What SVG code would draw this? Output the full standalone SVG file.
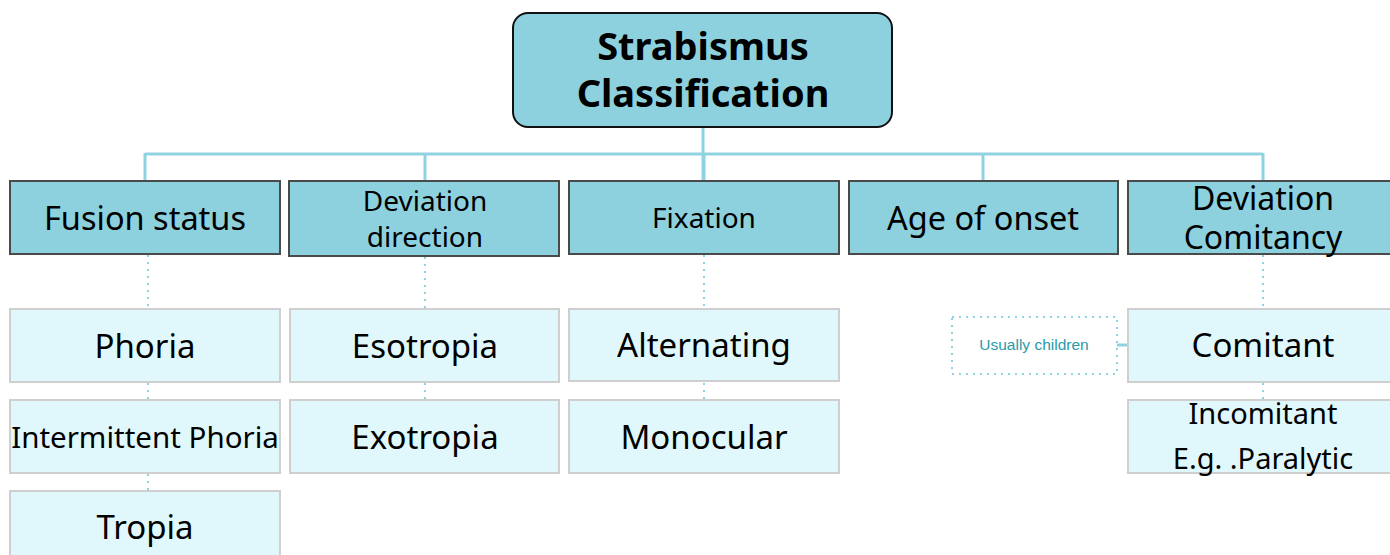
<svg xmlns="http://www.w3.org/2000/svg" width="1390" height="555" viewBox="0 0 1390 555">
<style>
.hdr{fill:#8dd1de;stroke:#4a4a4a;stroke-width:2}
.ch{fill:#e0f8fc;stroke:#cfcfcf;stroke-width:2}
.t{font-family:"Noto Sans","Open Sans",sans-serif;fill:#000;text-anchor:middle}
.solid{stroke:#8fd3e0;stroke-width:3;fill:none}
.dot{stroke:#8fd3e0;stroke-width:2;fill:none;stroke-dasharray:2 5}
</style>
<rect width="1390" height="555" fill="#fff"/>
<g id="connectors">
<path class="solid" d="M703 127V181M145 154H1263M145 153V181M425 153V181M704 153V181M983 153V181M1263 153V181"/>
<path class="dot" d="M148 255V309M148 383V400M148 474V491M425 257V309M425 383V400M704 255V309M704 383V400M1263 255V309M1263 383V400"/>
<path class="solid" stroke-width="2" d="M1117 345H1128"/>
</g>
<g id="root">
<rect x="513" y="13" width="379" height="114" rx="15" fill="#8dd1de" stroke="#111" stroke-width="2"/>
<text class="t" x="703" y="60" font-size="38" font-weight="bold">Strabismus</text>
<text class="t" x="703" y="107" font-size="38" font-weight="bold">Classification</text>
</g>
<g id="fusion">
<rect class="hdr" x="10" y="181" width="270" height="73"/>
<text class="t" x="145" y="230" font-size="32.5">Fusion status</text>
</g>
<g id="direction">
<rect class="hdr" x="289" y="181" width="270" height="75"/>
<text class="t" x="425" y="211" font-size="28">Deviation</text>
<text class="t" x="425" y="247" font-size="28">direction</text>
</g>
<g id="fixation">
<rect class="hdr" x="569" y="181" width="270" height="73"/>
<text class="t" x="704" y="228" font-size="28">Fixation</text>
</g>
<g id="age">
<rect class="hdr" x="849" y="181" width="269" height="73"/>
<text class="t" x="983" y="230" font-size="32.5">Age of onset</text>
</g>
<g id="comitancy">
<rect class="hdr" x="1128" y="181" width="272" height="73"/>
<text class="t" x="1263" y="210" font-size="32">Deviation</text>
<text class="t" x="1263" y="249" font-size="32">Comitancy</text>
</g>
<g id="phoria">
<rect class="ch" x="10" y="309" width="270" height="73"/>
<text class="t" x="145" y="358" font-size="33">Phoria</text>
</g>
<g id="intermittent">
<rect class="ch" x="10" y="400" width="270" height="73"/>
<text class="t" x="145" y="448" font-size="29.5">Intermittent Phoria</text>
</g>
<g id="tropia">
<rect class="ch" x="10" y="491" width="270" height="80"/>
<text class="t" x="145" y="539" font-size="33">Tropia</text>
</g>
<g id="esotropia">
<rect class="ch" x="290" y="309" width="269" height="73"/>
<text class="t" x="425" y="358" font-size="33">Esotropia</text>
</g>
<g id="exotropia">
<rect class="ch" x="290" y="400" width="269" height="73"/>
<text class="t" x="425" y="449" font-size="33">Exotropia</text>
</g>
<g id="alternating">
<rect class="ch" x="569" y="309" width="270" height="72"/>
<text class="t" x="704" y="357" font-size="33">Alternating</text>
</g>
<g id="monocular">
<rect class="ch" x="569" y="400" width="270" height="73"/>
<text class="t" x="704" y="449" font-size="33">Monocular</text>
</g>
<g id="comitant">
<rect class="ch" x="1128" y="309" width="272" height="73"/>
<text class="t" x="1263" y="357" font-size="33">Comitant</text>
</g>
<g id="incomitant">
<rect class="ch" x="1128" y="400" width="272" height="73"/>
<text class="t" x="1263" y="424" font-size="29">Incomitant</text>
<text class="t" x="1263" y="469" font-size="29">E.g. .Paralytic</text>
</g>
<g id="note">
<rect x="952" y="317" width="165" height="57" fill="none" stroke="#8fd3e0" stroke-width="2" stroke-dasharray="2 5"/>
<text x="1034" y="350" font-family="Liberation Sans,Arial,sans-serif" font-size="15.5" fill="#2a9aa8" text-anchor="middle">Usually children</text>
</g>
</svg>
